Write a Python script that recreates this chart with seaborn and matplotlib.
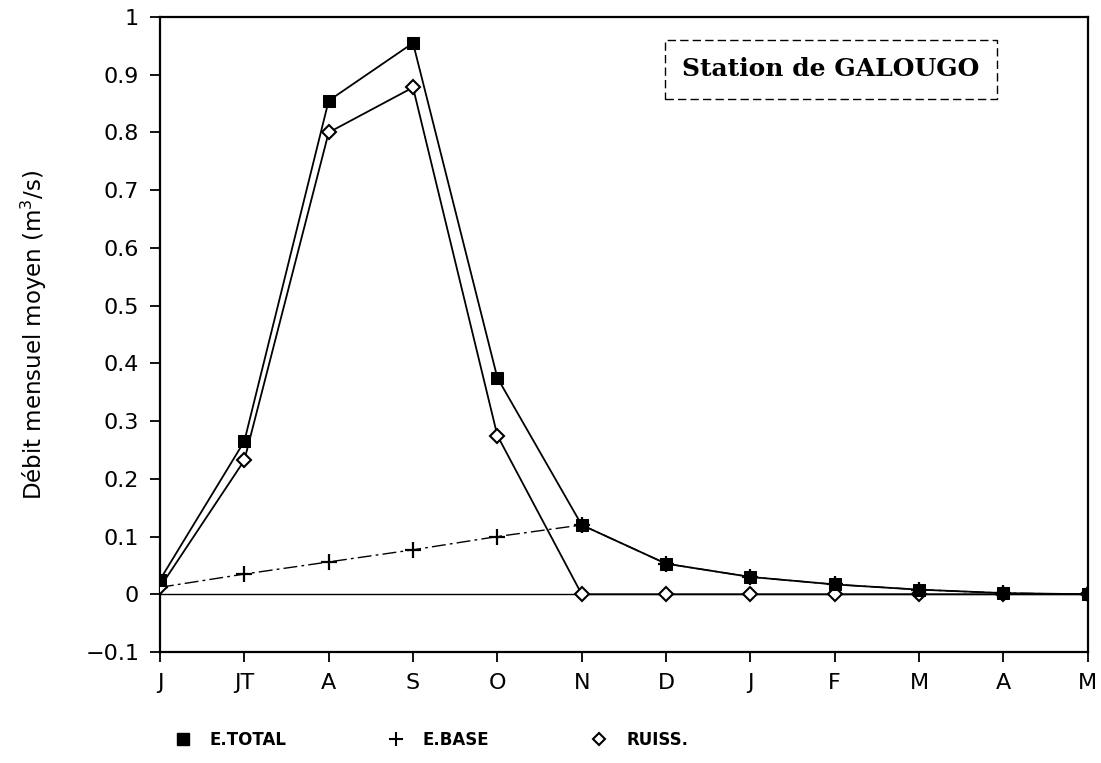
import numpy as np
import pandas as pd
import matplotlib
matplotlib.use("Agg")
import matplotlib.pyplot as plt
import seaborn as sns
from matplotlib.lines import Line2D

# Monthly mean discharge, station de GALOUGO
months = ["J", "JT", "A", "S", "O", "N", "D", "J", "F", "M", "A", "M"]
e_total = [0.025, 0.265, 0.855, 0.955, 0.375, 0.12, 0.053, 0.030, 0.017, 0.008, 0.002, 0.0]
e_base = [0.012, 0.035, 0.056, 0.077, 0.100, 0.12, 0.053, 0.030, 0.017, 0.008, 0.002, 0.0]
ruiss = [0.012, 0.232, 0.800, 0.878, 0.275, 0.0, 0.0, 0.0, 0.0, 0.0, 0.0, 0.0]

pos = np.arange(len(months))
df = pd.DataFrame({"pos": pos, "E.TOTAL": e_total, "E.BASE": e_base, "RUISS.": ruiss})

sns.set_style("ticks")
plt.rcParams["font.family"] = ["DejaVu Sans"]
plt.rcParams["text.color"] = "black"
plt.rcParams["axes.labelcolor"] = "black"
plt.rcParams["xtick.color"] = "black"
plt.rcParams["ytick.color"] = "black"

fig = plt.figure(figsize=(11.01, 7.63), dpi=100)
ax = fig.add_axes([0.1453, 0.1455, 0.8427, 0.8322])

ax.axhline(0, color="black", lw=1.0, zorder=1)

sns.lineplot(data=df, x="pos", y="E.BASE", ax=ax, color="black", lw=1.0,
             linestyle=(0, (10, 3, 2, 3)), marker="+", markersize=12,
             markeredgecolor="black", markeredgewidth=1.6, zorder=2)
sns.lineplot(data=df, x="pos", y="RUISS.", ax=ax, color="black", lw=1.3,
             marker="D", markersize=7, markerfacecolor="white",
             markeredgecolor="black", markeredgewidth=1.5, zorder=3)
sns.lineplot(data=df, x="pos", y="E.TOTAL", ax=ax, color="black", lw=1.3,
             marker="s", markersize=9, markerfacecolor="black",
             markeredgecolor="black", zorder=4)

ax.set_xlim(0, len(months) - 1)
ax.set_ylim(-0.1, 1.0)
ax.set_xticks(pos)
ax.set_xticklabels(months)
ax.set_yticks(np.round(np.arange(-0.1, 1.01, 0.1), 1))
ax.set_yticklabels(["\u22120.1", "0", "0.1", "0.2", "0.3", "0.4", "0.5",
                    "0.6", "0.7", "0.8", "0.9", "1"])
ax.tick_params(axis="both", labelsize=16, length=7, width=1.3, direction="out", pad=8)
for s in ax.spines.values():
    s.set_linewidth(1.6)
    s.set_color("black")

ax.set_xlabel("")
ax.set_ylabel("Débit mensuel moyen (m$^3$/s)", fontsize=16.5, labelpad=26)

ax.text(0.563, 0.918, "Station de GALOUGO", transform=ax.transAxes,
        fontsize=18, fontweight="bold", family="DejaVu Serif", va="center",
        bbox=dict(boxstyle="square,pad=0.7", facecolor="white",
                  edgecolor="black", linestyle=(0, (6, 3)), lw=1.0))

handles = [
    Line2D([], [], color="black", marker="s", linestyle="none", markersize=8),
    Line2D([], [], color="black", marker="+", linestyle="none", markersize=10, markeredgewidth=1.5),
    Line2D([], [], color="black", marker="D", linestyle="none", markersize=6,
           markerfacecolor="white", markeredgewidth=1.5),
]
fig.legend(handles, ["E.TOTAL", "E.BASE", "RUISS."], loc="center left",
           bbox_to_anchor=(0.137, 0.03), ncol=3, frameon=False,
           columnspacing=5.6, handletextpad=0.6,
           prop={"size": 12, "weight": "bold"})

fig.savefig("out.png", dpi=100)
